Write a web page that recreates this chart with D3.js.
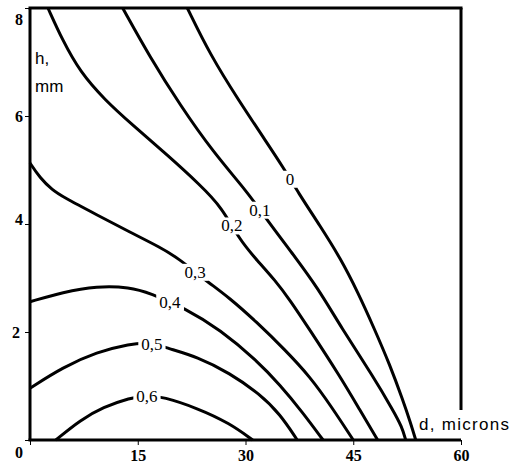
<!DOCTYPE html>
<html>
<head>
<meta charset="utf-8">
<script src="https://cdn.jsdelivr.net/npm/d3@7/dist/d3.min.js"></script>
<style>
body { margin: 0; background: #fff; }
</style>
</head>
<body>
<svg class="chart"></svg>
<script>
var levels = ["0", "0,1", "0,2", "0,3", "0,4", "0,5", "0,6"];
var line00 = [[21.9, 8], [25.1, 7.13], [29.0, 6.30], [32.7, 5.56], [35.2, 5.06], [37.3, 4.59],
              [40.4, 3.96], [43.2, 3.37], [45.7, 2.72], [47.9, 2.07], [50.1, 1.39], [51.9, 0.74],
              [53.0, 0.31], [53.7, 0]];
var line01 = [[12.9, 8], [16.7, 7.09], [20.9, 6.20], [25.5, 5.33], [30.4, 4.57], [32.7, 4.13],
              [36.5, 3.46], [40.1, 2.81], [43.3, 2.09], [47.8, 1.17], [50.5, 0.56], [51.8, 0.24],
              [52.3, 0]];
var line02 = [[2.5, 8], [4.5, 7.41], [7.0, 6.81], [10.4, 6.30], [14.3, 5.83], [19.1, 5.28],
              [23.7, 4.72], [26.7, 4.31], [29.2, 3.70], [31.6, 3.33], [34.1, 2.96], [36.2, 2.59],
              [38.7, 2.09], [43.2, 1.17], [45.9, 0.56], [48.4, 0]];
var line03 = [[0, 5.13], [1.4, 4.85], [3.1, 4.63], [4.6, 4.50], [9.3, 4.17], [13.9, 3.85],
              [18.1, 3.57], [20.6, 3.37], [24.4, 2.96], [27.8, 2.63], [31.5, 2.19], [35.5, 1.67],
              [39.0, 1.17], [42.0, 0.61], [45.0, 0]];
var line04 = [[0, 2.56], [4.6, 2.74], [9.3, 2.85], [13.9, 2.83], [16.7, 2.72], [21.6, 2.44],
              [26.5, 2.04], [31.5, 1.48], [34.8, 1.02], [37.9, 0.52], [40.8, 0]];
var line05 = [[0, 0.96], [4.6, 1.35], [9.3, 1.63], [13.9, 1.78], [16.7, 1.81], [19.1, 1.70],
              [23.3, 1.54], [27.8, 1.24], [32.0, 0.85], [34.8, 0.48], [37.2, 0]];
var line06 = [[3.6, 0], [7.0, 0.37], [10.2, 0.61], [13.9, 0.78], [16.3, 0.83], [18.5, 0.80],
              [23.3, 0.59], [27.8, 0.31], [31.0, 0]];
var labelD = [36.2, 32.0, 28.1, 23.0, 19.5, 17.0, 16.3];   // where each level label sits along d

var xTicks = [0, 15, 30, 45, 60];
var yTicks = [0, 2, 4, 6, 8];

function show() {
    'use strict';

    var margin = { top: 8, bottom: 30, right: 51, left: 30 },
        width = 512 - margin.left - margin.right,
        height = 470 - margin.top - margin.bottom;

    var svg = d3.select(".chart")
        .attr("width", 512)
        .attr("height", 470);

    var chart = svg.append("g")
        .attr("transform", "translate(" + margin.left + "," + margin.top + ")");

    var x = d3.scaleLinear().domain([0, 60]).range([0, width]);
    var y = d3.scaleLinear().domain([0, 8]).range([height, 0]);

    var lines = [line00, line01, line02, line03, line04, line05, line06];

    var path = d3.line()
        .x(function(d) { return x(d[0]); })
        .y(function(d) { return y(d[1]); })
        .curve(d3.curveBasis);

    var serif = "'Liberation Serif', 'Times New Roman', serif";

    // axes (thin ticks, labels in bold serif)
    var xAxis = chart.append("g")
        .attr("transform", "translate(0," + height + ")")
        .call(d3.axisBottom(x).tickValues(xTicks).tickSize(5).tickPadding(5)
            .tickFormat(function(d) { return d === 0 ? "" : d; }));
    var yAxis = chart.append("g")
        .call(d3.axisLeft(y).tickValues(yTicks).tickSize(5).tickPadding(4));

    [xAxis, yAxis].forEach(function(a) {
        a.attr("font-family", null);
        a.select(".domain").remove();
        a.selectAll("line").attr("stroke", "#000").attr("stroke-width", 1);
        a.selectAll("text")
            .style("font-family", serif)
            .attr("font-weight", "bold")
            .attr("font-size", 16)
            .attr("fill", "#000");
    });
    yAxis.selectAll(".tick text")
        .attr("dy", function(d) { return d === 8 ? "1.0em" : d === 0 ? "1.1em" : d === 4 ? "0.05em" : "0.32em"; })
        .attr("x", function(d) { return d === 2 ? -10 : -7; });

    // contour lines
    var curves = chart.selectAll("path.iso").data(lines).enter()
        .append("path")
        .attr("class", "iso")
        .attr("d", path)
        .attr("fill", "none")
        .attr("stroke", "#000")
        .attr("stroke-width", 3);

    // frame: left, bottom, top, right (right stops short above the d label)
    var frame = chart.append("g")
        .attr("stroke", "#000")
        .attr("stroke-width", 3)
        .attr("fill", "none");
    frame.append("line").attr("x1", 0).attr("y1", 0).attr("x2", 0).attr("y2", height);
    frame.append("line").attr("x1", -1.5).attr("y1", height).attr("x2", width).attr("y2", height);
    frame.append("line").attr("x1", -1.5).attr("y1", 0).attr("x2", width + 1.5).attr("y2", 0);
    frame.append("line").attr("x1", width).attr("y1", 0).attr("x2", width).attr("y2", height - 30);

    // level labels, each sitting in a gap of its own line
    curves.each(function(d, i) {
        var node = this,
            total = node.getTotalLength(),
            target = x(labelD[i]),
            best = null;
        for (var s = 0; s <= total; s += 0.5) {
            var p = node.getPointAtLength(s);
            if (best === null || Math.abs(p.x - target) < Math.abs(best.x - target)) best = p;
        }
        var g = chart.append("g").attr("transform", "translate(" + best.x + "," + best.y + ")");
        var bg = g.append("rect").attr("fill", "#fff");
        var t = g.append("text")
            .attr("text-anchor", "middle")
            .attr("dy", "0.35em")
            .style("font-family", serif)
            .attr("font-size", 17)
            .attr("fill", "#000")
            .text(levels[i]);
        var b = t.node().getBBox();
        bg.attr("x", b.x - 3).attr("y", b.y + 1).attr("width", b.width + 6).attr("height", b.height - 2);
    });

    // axis titles
    var sans = "'Liberation Sans', Arial, sans-serif";
    svg.append("text").attr("x", 35).attr("y", 64)
        .style("font-family", sans).attr("font-size", 17).attr("fill", "#000").text("h,");
    svg.append("text").attr("x", 35).attr("y", 92)
        .style("font-family", sans).attr("font-size", 17).attr("fill", "#000").text("mm");
    svg.append("text").attr("x", 419).attr("y", 430)
        .style("font-family", sans).attr("font-size", 17).attr("fill", "#000")
        .attr("textLength", 90).attr("lengthAdjust", "spacing")
        .text("d, microns");
}
show();
</script>
</body>
</html>
